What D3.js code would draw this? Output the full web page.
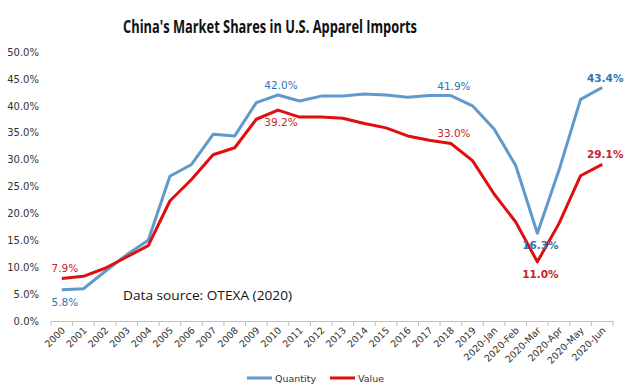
<!DOCTYPE html>
<html><head><meta charset="utf-8">
<script src="https://cdn.jsdelivr.net/npm/d3@7"></script>
<style>body{margin:0;background:#fff}svg{display:block}</style>
</head><body><svg id="c" width="636" height="392"></svg>
<script>
const categories = ["2000","2001","2002","2003","2004","2005","2006","2007","2008","2009","2010","2011","2012","2013","2014","2015","2016","2017","2018","2019","2020-Jan","2020-Feb","2020-Mar","2020-Apr","2020-May","2020-Jun"];
const quantity = [5.8,6.0,9.2,12.3,15.0,26.9,29.1,34.7,34.4,40.6,42.0,40.9,41.8,41.8,42.2,42.0,41.6,41.9,41.9,40.0,35.7,28.9,16.3,28.0,41.2,43.4];
const value = [7.9,8.3,9.8,11.9,14.0,22.3,26.3,30.9,32.2,37.5,39.2,37.9,37.9,37.7,36.7,35.9,34.4,33.6,33.0,29.8,23.6,18.4,11.0,18.1,27.0,29.1];
const yTicks = [0,5,10,15,20,25,30,35,40,45,50];
const title = "China's Market Shares in U.S. Apparel Imports";
const sourceNote = "Data source: OTEXA (2020)";
const seriesNames = ["Quantity","Value"];
// labelled points: [series, index, position, bold]
const labelsQ = [[0,"below",false],[10,"above",false],[18,"above",false],[22,"below",true],[25,"above",true]];
const labelsV = [[0,"above",false],[10,"below",false],[18,"above",false],[22,"below",true],[25,"above",true]];

const blue = "#6199CB", blueText = "#2E75B6";
const red = "#E00F0F", redText = "#C8232B";

const svg = d3.select("#c");
const x = d3.scaleBand().domain(categories).range([51, 613]);
const y = d3.scaleLinear().domain([0, 50]).range([321, 52]);
const cx = d => x(d) + x.bandwidth()/2;

// title
svg.append("text").attr("x", 270).attr("y", 33).attr("text-anchor","middle")
  .attr("font-family","'Liberation Sans Narrow','Open Sans',sans-serif").attr("font-weight","bold")
  .attr("font-size",18).attr("fill","#111").attr("textLength",294).attr("lengthAdjust","spacingAndGlyphs")
  .text(title);

// y axis labels (no line)
const yAxis = d3.axisLeft(y).tickValues(yTicks).tickFormat(d => d3.format(".1f")(d) + "%").tickSize(0).tickPadding(0);
const gy = svg.append("g").attr("transform","translate(39,0)").call(yAxis);
gy.select(".domain").remove();
gy.selectAll("text").attr("font-family","'DejaVu Sans',sans-serif").attr("font-size",10).attr("fill","#333");

// x axis
const gx = svg.append("g").attr("transform","translate(0,321)")
  .call(d3.axisBottom(x).tickSize(0).tickPadding(0));
gx.select(".domain").attr("stroke","#bfbfbf");
gx.selectAll(".tick line").remove();
const bounds = categories.map(c => x(c)).concat([x.range()[1]]);
gx.selectAll(".bt").data(bounds).join("line").attr("class","bt")
  .attr("x1", d=>d).attr("x2", d=>d).attr("y1",0).attr("y2",5).attr("stroke","#bfbfbf");
gx.selectAll(".tick text")
  .attr("font-family","'DejaVu Sans',sans-serif").attr("font-size",9.5).attr("fill","#333")
  .attr("text-anchor","end").attr("dy",0)
  .attr("transform","translate(4,10) rotate(-45)");

// lines
const line = d3.line().x((d,i)=>cx(categories[i])).y(d=>y(d));
svg.append("path").datum(quantity).attr("d",line).attr("fill","none").attr("stroke",blue)
  .attr("stroke-width",3).attr("stroke-linejoin","round");
svg.append("path").datum(value).attr("d",line).attr("fill","none").attr("stroke",red)
  .attr("stroke-width",3).attr("stroke-linejoin","round");

// data labels
function addLabels(arr, data, color) {
  svg.selectAll(null).data(arr).join("text")
    .attr("x", d => cx(categories[d[0]]) + 3)
    .attr("y", d => y(data[d[0]]) + (d[1]==="above" ? -6 : 16))
    .attr("text-anchor","middle")
    .attr("font-family","'DejaVu Sans',sans-serif").attr("font-size",10.5)
    .attr("font-weight", d => d[2] ? "bold" : "normal")
    .attr("fill", color)
    .text(d => d3.format(".1f")(data[d[0]]) + "%");
}
addLabels(labelsQ, quantity, blueText);
addLabels(labelsV, value, redText);

// source note
svg.append("text").attr("x",123).attr("y",300)
  .attr("font-family","'Open Sans',sans-serif").attr("font-size",12.5).attr("fill","#111")
  .attr("textLength",169).attr("lengthAdjust","spacingAndGlyphs").text(sourceNote);

// legend
const legend = svg.append("g").attr("transform","translate(247,378)");
const lg = [[seriesNames[0], blue, 0], [seriesNames[1], red, 83]];
lg.forEach(([name,color,dx]) => {
  legend.append("line").attr("x1",dx).attr("x2",dx+25).attr("y1",0).attr("y2",0)
    .attr("stroke",color).attr("stroke-width",3);
  legend.append("text").attr("x",dx+28).attr("y",4)
    .attr("font-family","'DejaVu Sans',sans-serif").attr("font-size",9.5).attr("fill","#333").text(name);
});
</script></body></html>
